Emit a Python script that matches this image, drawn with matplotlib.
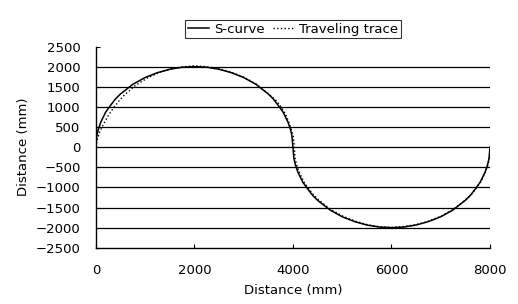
import matplotlib
matplotlib.use("Agg")
import matplotlib.pyplot as plt

plt.rcParams['font.family'] = ['DejaVu Sans']

# S-curve (reference path)
s_x = [0, 20, 50, 100, 200, 300, 400, 500, 750, 1000, 1250, 1500, 1750, 2000,
       2250, 2500, 2750, 3000, 3250, 3500, 3600, 3700, 3800, 3900, 3950, 3980, 4000,
       4020, 4050, 4100, 4200, 4300, 4400, 4500, 4750, 5000, 5250, 5500, 5750, 6000,
       6250, 6500, 6750, 7000, 7250, 7500, 7600, 7700, 7800, 7900, 7950, 7980, 8000]
s_y = [0, 280, 440, 620, 870, 1040, 1200, 1320, 1560, 1730, 1850, 1935, 1985, 2000,
       1985, 1935, 1850, 1730, 1560, 1320, 1200, 1040, 870, 620, 440, 280, 0,
       -280, -440, -620, -870, -1040, -1200, -1320, -1560, -1730, -1850, -1935, -1985, -2000,
       -1985, -1935, -1850, -1730, -1560, -1320, -1200, -1040, -870, -620, -440, -280, 0]

t_x = [0, 30, 80, 150, 250, 350, 450, 550, 800, 1050, 1300, 1550, 1800, 2000,
       2250, 2500, 2750, 3000, 3250, 3500, 3650, 3750, 3850, 3930, 3980, 4010, 4030,
       4040, 4070, 4120, 4220, 4320, 4420, 4520, 4770, 5020, 5270, 5520, 5770, 6000,
       6250, 6500, 6750, 7000, 7250, 7500, 7620, 7720, 7820, 7910, 7960, 7990, 8000]
t_y = [0, 200, 380, 560, 780, 960, 1120, 1260, 1530, 1720, 1860, 1950, 2000, 2020,
       2000, 1945, 1860, 1740, 1570, 1330, 1170, 1020, 820, 580, 400, 250, 0,
       -250, -420, -600, -860, -1030, -1190, -1310, -1550, -1720, -1840, -1930, -1980, -1995,
       -1975, -1925, -1840, -1720, -1550, -1310, -1180, -1020, -850, -600, -420, -250, 20]

x_ticks = [0, 2000, 4000, 6000, 8000]
y_ticks = [2500, 2000, 1500, 1000, 500, 0, -500, -1000, -1500, -2000, -2500]

fs = 9.5

fig = plt.figure(figsize=(5.18, 3.04), dpi=100)
ax = fig.add_axes([0.185, 0.185, 0.761, 0.662])

for yv in y_ticks[1:-1]:
    ax.axhline(yv, color='black', lw=0.9, zorder=1)

ax.plot(s_x, s_y, color='black', lw=1.1, ls='-', label='S-curve', zorder=3)
ax.plot(t_x, t_y, color='black', lw=1.0, ls=':', label='Traveling trace', zorder=4)

ax.set_xlim(0, 8000)
ax.set_ylim(-2500, 2500)
ax.set_xticks(x_ticks)
ax.set_yticks(y_ticks)
ax.tick_params(axis='both', direction='in', length=3, labelsize=fs, colors='black')
ax.tick_params(axis='y', pad=11)
ax.tick_params(axis='x', pad=12)
ax.spines['top'].set_visible(False)
ax.spines['right'].set_visible(False)
ax.spines['left'].set_linewidth(1.0)
ax.spines['bottom'].set_linewidth(1.0)

ax.set_xlabel('Distance (mm)', fontsize=fs, labelpad=5)
ax.set_ylabel('Distance (mm)', fontsize=fs, labelpad=4)

leg = ax.legend(loc='lower center', bbox_to_anchor=(0.5, 1.04), ncol=2, frameon=True,
                fancybox=False, edgecolor='black', fontsize=fs, handlelength=1.6,
                handletextpad=0.4, columnspacing=0.6, borderpad=0.2, borderaxespad=0)
leg.get_frame().set_linewidth(0.8)

fig.savefig('out.png', dpi=100, facecolor='white')
